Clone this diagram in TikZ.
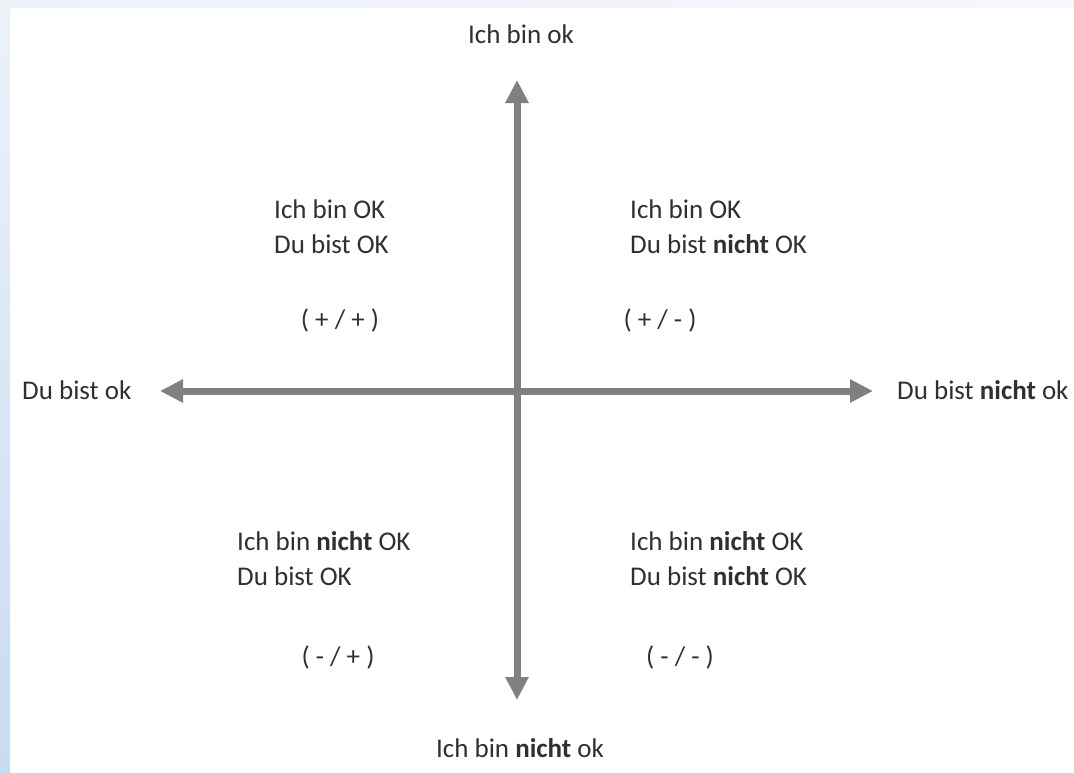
\documentclass[tikz,border=0pt]{standalone}
\usepackage{fontspec}
\setmainfont{Carlito}
\usetikzlibrary{arrows.meta}

\definecolor{axisgray}{HTML}{808080}
\definecolor{txtgray}{HTML}{303030}
\definecolor{bandtop}{HTML}{EDF2F9}
\definecolor{bandbot}{HTML}{C9DBF1}

\begin{document}
\begin{tikzpicture}[
    x=1pt, y=-1pt,
    % Stil fuer die beiden Achsen (Doppelpfeile)
    axis/.style={line width=7pt, axisgray,
        {Triangle[length=23pt,width=22pt]}-{Triangle[length=23pt,width=22pt]}},
    % Stil fuer alle Texte
    txt/.style={inner sep=0pt, text=txtgray, font=\fontsize{27}{35}\selectfont, anchor=base west},
    % Stil fuer die Kurzformen (+/-)
    sign/.style={txt, anchor=base}
]

    % ==========================================
    % Hintergrund
    % ==========================================
    \useasboundingbox (0,0) rectangle (1074,772);
    \fill[white] (0,0) rectangle (1074,772);
    \shade[left color=bandtop, right color=bandtop!60!white] (0,0) rectangle (1074,7);
    \shade[top color=bandtop, bottom color=bandbot] (0,0) rectangle (10,772);

    % ==========================================
    % Achsen
    % ==========================================
    \coordinate (top) at (517,80);
    \coordinate (bottom) at (517,700);
    \coordinate (left) at (160,391);
    \coordinate (right) at (873,391);

    \draw[axis] (top) -- (bottom);
    \draw[axis] (left) -- (right);

    % Beschriftung der Achsenenden
    \node[txt, anchor=base] (ichok) at (521,43) {Ich bin ok};
    \node[txt, anchor=base] (ichnok) at (520,757) {Ich bin \textbf{nicht} ok};
    \node[txt] (duok) at (22,399) {Du bist ok};
    \node[txt] (dunok) at (897,399) {Du bist \textbf{nicht} ok};

    % ==========================================
    % Quadranten
    % ==========================================
    % oben links
    \node[txt] (ol1) at (274,218) {Ich bin OK};
    \node[txt] (ol2) at (274,253) {Du bist OK};
    \node[sign] (olz) at (340,328) {( + / + )};

    % oben rechts
    \node[txt] (or1) at (630,218) {Ich bin OK};
    \node[txt] (or2) at (630,253) {Du bist \textbf{nicht} OK};
    \node[sign] (orz) at (660,328) {( + / - )};

    % unten links
    \node[txt] (ul1) at (237,550) {Ich bin \textbf{nicht} OK};
    \node[txt] (ul2) at (237,585) {Du bist OK};
    \node[sign] (ulz) at (338,665) {( - / + )};

    % unten rechts
    \node[txt] (ur1) at (630,550) {Ich bin \textbf{nicht} OK};
    \node[txt] (ur2) at (630,585) {Du bist \textbf{nicht} OK};
    \node[sign] (urz) at (680,665) {( - / - )};

\end{tikzpicture}
\end{document}
